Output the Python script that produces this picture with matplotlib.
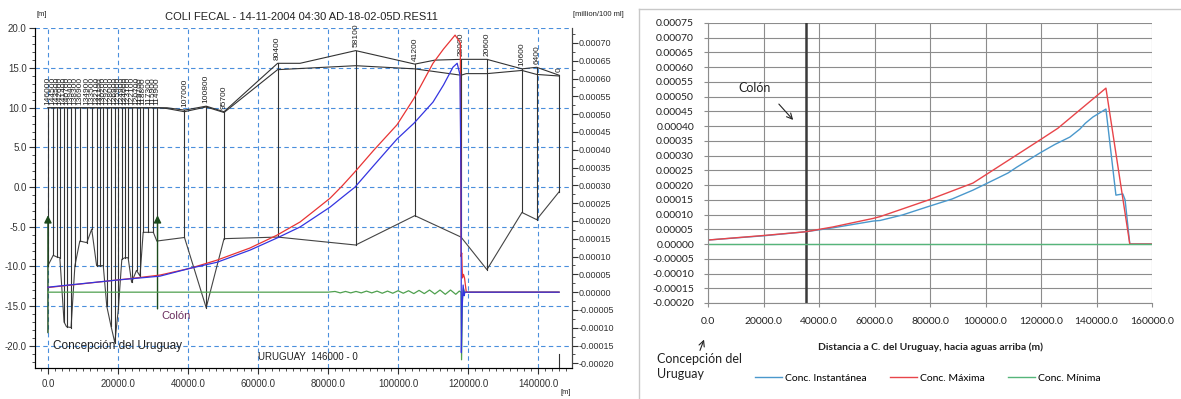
import matplotlib.pyplot as plt
from matplotlib.ticker import MultipleLocator, FormatStrFormatter
from matplotlib.lines import Line2D

plt.rcParams['font.family'] = ['Liberation Sans', 'DejaVu Sans']
plt.rcParams['axes.unicode_minus'] = False

W, H = 1181, 399

# ---------------- left chart: MIKE11 longitudinal profile ----------------
# cross sections: chainage (m), bank top and bed level (m)
sec_chainage = [146000, 144500, 143500, 142600, 141400, 140700, 139400, 138300, 136900,
                134900, 133500, 132100, 131100, 130200, 129200, 128000, 126900, 125900,
                124900, 124000, 123100, 122100, 120700, 119700, 118800, 117300, 115900,
                114900, 107000, 100800, 95700, 80400, 58100, 41200, 28000, 20600, 10600,
                6400, 0]
sec_top = [10.0] * 28 + [9.7, 10.2, 9.5, 15.6, 17.2, 15.5, 16.1, 16.1, 14.9, 15.1, 14.1]
sec_bed = [-9.9, -8.6, -8.8, -8.9, -17.0, -17.6, -17.7, -9.9, -6.8,
           -7.0, -5.3, -9.9, -9.9, -9.9, -15.0, -17.5, -19.6, -15.4,
           -9.1, -8.9, -8.9, -12.0, -10.5, -11.2, -5.7, -5.7, -5.7,
           -6.8, -6.35, -15.2, -6.5, -6.3, -7.3, -3.6, -6.3, -10.4, -3.2,
           -4.1, -0.6]

# bank lines (distance from Concepción, m)
bank_hi_x = [0, 31100, 34000, 39000, 45200, 50300, 65600, 72000, 87900, 104800, 110500,
             118000, 125400, 135400, 139600, 146000]
bank_hi_z = [10.0, 10.0, 10.0, 9.7, 10.2, 9.5, 15.6, 15.6, 17.2, 15.5, 16.0,
             16.1, 16.1, 14.9, 15.1, 14.1]
bank_lo_x = [0, 31100, 34000, 39000, 45200, 50300, 65600, 87900, 104800, 118000, 119500,
             125400, 135400, 139600, 146000]
bank_lo_z = [10.0, 10.0, 9.9, 9.5, 10.1, 9.4, 14.8, 15.3, 14.9, 14.1, 14.3,
             14.3, 14.7, 14.2, 14.0]

# concentrations [million/100 ml]
inst_x = [0, 19700, 32000, 40600, 48300, 57700, 65400, 72000, 76000, 80600, 84000, 87700,
          93000, 99700, 104600, 110000, 113000, 115700, 116900, 117700, 118000, 118100,
          118300, 118600, 118900, 119100, 146000]
inst_v = [0.000014, 0.000034, 0.000045, 0.000067, 0.000084, 0.000118, 0.000152, 0.000183,
          0.000209, 0.000239, 0.000266, 0.000295, 0.000355, 0.000430, 0.000475, 0.000534,
          0.000582, 0.000632, 0.000643, 0.000610, 0.000300, -0.000170, -0.000050,
          0.000020, -0.000010, 0.0, 0.0]
max_x = [0, 24300, 32000, 40600, 48300, 57700, 65400, 72000, 76000, 80600, 84000, 87700,
         93000, 99700, 104600, 110000, 113000, 116300, 117800, 118000, 118200, 118400,
         118700, 119000, 119500, 146000]
max_v = [0.000013, 0.000039, 0.000048, 0.000067, 0.000090, 0.000124, 0.000160, 0.000197,
         0.000228, 0.000264, 0.000298, 0.000338, 0.000398, 0.000470, 0.000545, 0.000643,
         0.000683, 0.000722, 0.000700, 0.000100, 0.000110, 0.000040, 0.000050, 0.000040,
         0.0, 0.0]
min_x = [0, 60000, 80000, 82000, 83500, 85000, 86500, 88000, 89500, 91000, 92500, 94000,
         95500, 97000, 98500, 100000, 101500, 103000, 104500, 106000, 107500, 109000, 110500,
         112000, 113500, 115000, 116500, 117500, 118000, 118150, 118400, 118700, 119000, 146000]
min_v = [0, 0, 0, 2e-6, -2e-6, 2e-6, -2e-6, 2e-6, -2e-6, 3e-6, -2e-6, 3e-6,
         -3e-6, 3e-6, -3e-6, 4e-6, -3e-6, 4e-6, -4e-6, 5e-6, -4e-6, 6e-6, -5e-6,
         6e-6, -6e-6, 6e-6, -6e-6, 3e-6, 0, -0.00019, -0.00002, 1e-5, 0, 0]

# ---------------- right chart: Excel ----------------
r_inst_x = [0, 20000, 35200, 45000, 59500, 62000, 70000, 79300, 88000, 95500, 104000, 108100,
            111300, 119600, 125000, 130400, 134000, 136000, 138700, 143400, 147000, 149500,
            150300, 152000, 160000]
r_inst_v = [0.0000136, 0.000028, 0.0000417, 0.000055, 0.000078, 0.000080, 0.0000985, 0.000127,
            0.000153, 0.000183, 0.000222, 0.000241, 0.000261, 0.000309, 0.000338, 0.000363,
            0.000390, 0.000410, 0.000431, 0.000458, 0.000166, 0.000170, 0.000150, 0.0, 0.0]
r_max_x = [0, 20000, 35200, 45000, 59500, 62000, 79300, 95500, 119600, 126100, 143400, 152000, 160000]
r_max_v = [0.0000136, 0.000029, 0.0000417, 0.000058, 0.000087, 0.000093, 0.000149, 0.000207,
           0.000353, 0.000393, 0.000529, 0.0, 0.0]
r_min_x = [0, 160000]
r_min_v = [0.0, 0.0]
colon_x = 35300

fig = plt.figure(figsize=(W / 100, H / 100), dpi=100)


def fx(px):
    return px / W


def fy(py):
    return 1 - py / H


# ---- left ----
ax = fig.add_axes([fx(35), fy(368), fx(572) - fx(35), fy(28) - fy(368)])
ax.set_xlim(-3700, 149700)
ax.set_ylim(-22.8, 20.05)
ax.grid(True, color='#4a8fdc', ls=(0, (4, 3)), lw=0.8)
ax.xaxis.set_major_locator(MultipleLocator(20000))
ax.xaxis.set_minor_locator(MultipleLocator(2000))
ax.yaxis.set_major_locator(MultipleLocator(5))
ax.yaxis.set_minor_locator(MultipleLocator(1))
ax.xaxis.set_major_formatter(FormatStrFormatter('%.1f'))
ax.yaxis.set_major_formatter(FormatStrFormatter('%.1f'))
ax.tick_params(which='both', direction='out', labelsize=7, colors='#333333', pad=2)
ax.tick_params(which='major', length=4)
ax.tick_params(which='minor', length=2)
ax.tick_params(axis='x', pad=4)
ax.spines['top'].set_visible(False)
for s in ['left', 'bottom', 'right']:
    ax.spines[s].set_color('#444444')

ax.plot(bank_hi_x, bank_hi_z, color='#333333', lw=0.8)
ax.plot(bank_lo_x, bank_lo_z, color='#333333', lw=0.8)
sec_x = [146000 - c for c in sec_chainage]
ax.plot(sec_x, sec_bed, color='#444444', lw=0.8)
for x, top, bed, c in zip(sec_x, sec_top, sec_bed, sec_chainage):
    ax.plot([x, x], [top, bed], color='#333333', lw=0.8)
    ax.text(x, top + 0.4, str(c), rotation=90, ha='center', va='bottom', fontsize=6,
            color='#222222')
ax.plot([146000, 146000], [-21.0, -22.8], color='#333333', lw=0.8)

# location arrows
ax.annotate('', xy=(0, -3.2), xytext=(0, -18.7),
            arrowprops=dict(arrowstyle='-|>', color='#1c4a1c', lw=1, mutation_scale=11))
ax.annotate('', xy=(31300, -3.2), xytext=(31300, -15.7),
            arrowprops=dict(arrowstyle='-|>', color='#1c4a1c', lw=1, mutation_scale=11))
ax.text(32300, -16.3, 'Colón', fontsize=8, color='#6a2d5e', va='center')
ax.text(1300, -20.0, 'Concepción del Uruguay', fontsize=8.5, color='#222222', va='center')
ax.text(60000, -21.4, 'URUGUAY  146000 - 0', fontsize=7, color='#222222', va='center')

ax2 = ax.twinx()
ax2.set_ylim(-0.000213, 0.000742)
ax2.plot(min_x, min_v, color='#4fa04f', lw=0.9)
ax2.plot(max_x, max_v, color='#e83434', lw=0.9)
ax2.plot(inst_x, inst_v, color='#3434e0', lw=0.9)
ax2.yaxis.set_major_locator(MultipleLocator(0.00005))
ax2.yaxis.set_minor_locator(MultipleLocator(0.000025))
ax2.yaxis.set_major_formatter(FormatStrFormatter('%.5f'))
ax2.tick_params(which='both', direction='out', labelsize=6.5, colors='#333333', pad=1)
ax2.tick_params(which='major', length=4)
ax2.tick_params(which='minor', length=2)
ax2.spines['top'].set_visible(False)
ax2.spines['right'].set_color('#444444')

fig.text(fx(301), fy(17), 'COLI FECAL - 14-11-2004 04:30 AD-18-02-05D.RES11',
         ha='center', va='center', fontsize=8, color='#222222')
fig.text(fx(42), fy(15), '[m]', ha='center', va='center', fontsize=5.5, color='#222222')
fig.text(fx(573), fy(15), '[million/100 ml]', ha='left', va='center', fontsize=5.5,
         color='#222222')
fig.text(fx(566), fy(392), '[m]', ha='center', va='center', fontsize=5.5, color='#222222')

# ---- right ----
rfont = ['Lato', 'DejaVu Sans']
fig.add_artist(Line2D([fx(639), fx(639)], [0, fy(9)], color='#c8c8c8', lw=1))
fig.add_artist(Line2D([fx(639), 1], [fy(9), fy(9)], color='#c8c8c8', lw=1))

ax3 = fig.add_axes([fx(708), fy(303), fx(1152) - fx(708), fy(23) - fy(303)])
ax3.set_xlim(0, 160000)
ax3.set_ylim(-0.0002, 0.00075)
ax3.xaxis.set_major_locator(MultipleLocator(20000))
ax3.yaxis.set_major_locator(MultipleLocator(0.00005))
ax3.xaxis.set_major_formatter(FormatStrFormatter('%.1f'))
ax3.yaxis.set_major_formatter(FormatStrFormatter('%.5f'))
ax3.grid(True, color='#8c8c8c', lw=0.8)
ax3.set_axisbelow(True)
for s in ['top', 'right']:
    ax3.spines[s].set_visible(False)
for s in ['left', 'bottom']:
    ax3.spines[s].set_color('#8c8c8c')
ax3.tick_params(direction='out', length=3, color='#8c8c8c', labelsize=7.5, pad=7,
                labelcolor='#222222')
for lab in ax3.get_xticklabels() + ax3.get_yticklabels():
    lab.set_family(rfont)

ax3.plot([colon_x, colon_x], [-0.0002, 0.00075], color='#3a3a3a', lw=1.8)
l1, = ax3.plot(r_inst_x, r_inst_v, color='#4a98cc', lw=1)
l2, = ax3.plot(r_max_x, r_max_v, color='#e8454a', lw=1)
l3, = ax3.plot(r_min_x, r_min_v, color='#55b57a', lw=1)

ax3.set_xlabel('Distancia a C. del Uruguay, hacia aguas arriba (m)', fontsize=7.5,
               fontweight='bold', family=rfont, labelpad=12, color='#222222')
ax3.legend([l1, l2, l3], ['Conc. Instantánea', 'Conc. Máxima', 'Conc. Mínima'],
           loc='center', bbox_to_anchor=((fx(928) - fx(708)) / (fx(1152) - fx(708)),
                                         (fy(378) - fy(303)) / (fy(23) - fy(303))),
           ncol=3, frameon=False, prop={'family': rfont, 'size': 7.5},
           handlelength=2.6, columnspacing=2.2, handletextpad=0.3)

fig.text(fx(755), fy(88), 'Colón', ha='center', va='center', fontsize=9, family=rfont,
         color='#222222')
ax3.annotate('', xy=(fx(795), fy(122)), xytext=(fx(777), fy(102)),
             xycoords='figure fraction', textcoords='figure fraction',
             arrowprops=dict(arrowstyle='->', color='#222222', lw=0.8))
fig.text(fx(657), fy(353), 'Concepción del\nUruguay', ha='left', va='top', fontsize=9,
         family=rfont, color='#222222', linespacing=1.25)
ax3.annotate('', xy=(fx(705), fy(337)), xytext=(fx(699), fy(353)),
             xycoords='figure fraction', textcoords='figure fraction',
             arrowprops=dict(arrowstyle='->', color='#222222', lw=0.8))

fig.savefig('out.png', dpi=100)
